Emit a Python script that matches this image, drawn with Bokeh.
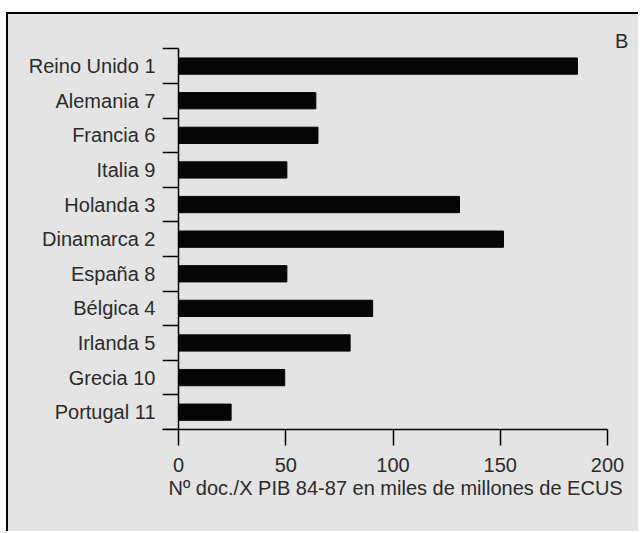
from bokeh.plotting import figure
from bokeh.models import Range1d, LinearAxis, FixedTicker, Label, Title
from bokeh.embed import file_html
from bokeh.resources import INLINE

countries = ["Reino Unido 1", "Alemania 7", "Francia 6", "Italia 9", "Holanda 3",
             "Dinamarca 2", "España 8", "Bélgica 4", "Irlanda 5", "Grecia 10", "Portugal 11"]
values = [186, 64, 65, 50.5, 131, 151.5, 50.5, 90.5, 80, 49.5, 24.5]
x_ticks = [0, 50, 100, 150, 200]
x_title = "Nº doc./X PIB 84-87 en miles de millones de ECUS"
panel_tag = "B"

FONT = "Liberation Sans"
TXT = "#2b2b2b"
BG = "#e4e4e4"

n = len(countries)
ypos = [n - i - 0.5 for i in range(n)]          # category centres, first on top
bounds = list(range(n + 1))                      # category boundaries

p = figure(width=632, height=519, output_backend="svg", toolbar_location=None,
           y_range=Range1d(0, n + 0.5), x_range=Range1d(-7.5, 215.4),
           min_border_left=154, min_border_right=0, min_border_top=17, min_border_bottom=104,
           x_axis_location=None, y_axis_location=None,
           styles={"margin-top": "12px", "margin-left": "6px",
                   "border-top": "2px solid #000", "border-left": "2px solid #000",
                   "background": BG})
p.background_fill_color = BG
p.background_fill_alpha = 1.0
p.border_fill_color = BG
p.border_fill_alpha = 1.0
p.outline_line_color = None
p.xgrid.visible = False
p.ygrid.visible = False

p.hbar(y=ypos, right=values, left=0, height=0.47, color="#050505")

# boundary ticks axis at x = 0
ba = LinearAxis(ticker=FixedTicker(ticks=bounds), bounds=(0, n))
ba.fixed_location = 0
ba.major_tick_out = 16
ba.major_tick_in = 0
ba.minor_tick_line_color = None
ba.major_label_text_font_size = "0px"
ba.major_label_text_color = None
ba.axis_line_color = "#000"
ba.axis_line_width = 1.5
ba.major_tick_line_width = 1.5
p.add_layout(ba, "left")

# category labels axis
ya = LinearAxis(ticker=FixedTicker(ticks=ypos),
                major_label_overrides={y: c for y, c in zip(ypos, countries)})
ya.axis_line_color = None
ya.major_tick_line_color = None
ya.minor_tick_line_color = None
ya.major_tick_out = 0
ya.major_tick_in = 0
ya.major_label_standoff = 7
ya.major_label_text_font = FONT
ya.major_label_text_font_size = "20px"
ya.major_label_text_color = TXT
p.add_layout(ya, "left")

# x axis
xa = LinearAxis(ticker=FixedTicker(ticks=x_ticks), bounds=(-7.5, 200))
xa.major_tick_out = 16
xa.major_tick_in = 0
xa.minor_tick_line_color = None
xa.axis_line_width = 1.5
xa.major_tick_line_width = 1.5
xa.axis_line_color = "#000"
xa.major_label_standoff = 12
xa.major_label_text_font = FONT
xa.major_label_text_font_size = "20px"
xa.major_label_text_color = TXT
p.add_layout(xa, "below")

p.add_layout(Title(text=x_title, align="left", offset=6, standoff=0,
                   text_font=FONT, text_font_size="20px", text_font_style="normal",
                   text_color=TXT), "below")

p.add_layout(Label(x=203.5, y=11.23, text=panel_tag,
                   text_font=FONT, text_font_size="20px", text_color=TXT,
                   text_baseline="alphabetic"))

open("out.html", "w").write(file_html(p, INLINE))
